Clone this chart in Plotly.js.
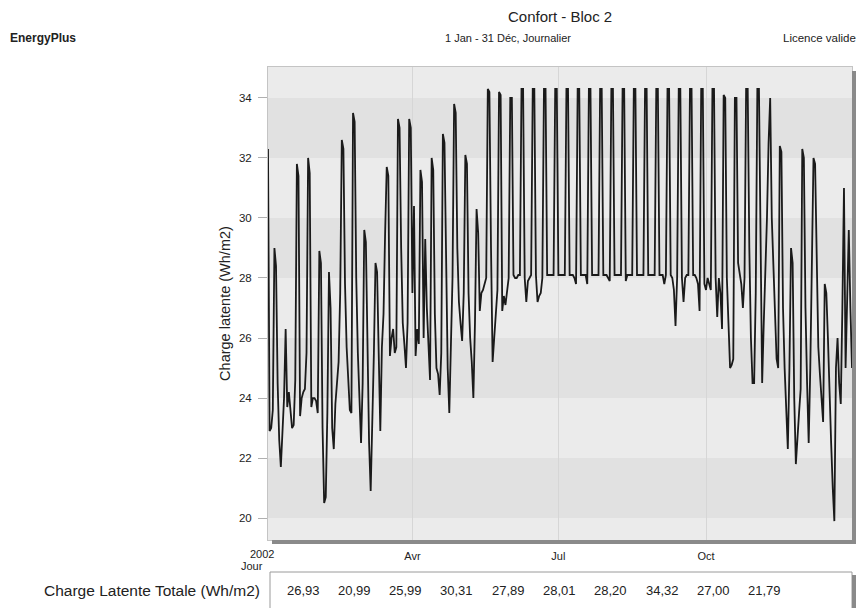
<!DOCTYPE html>
<html>
<head>
<meta charset="utf-8">
<script src="https://cdn.plot.ly/plotly-3.0.1.min.js"></script>
<style>html,body{margin:0;padding:0;background:#fff;}#chart{width:861px;height:608px;}</style>
</head>
<body>
<div id="chart"></div>
<script>
// Daily latent load (Wh/m2), 1 Jan - 31 Dec 2002
const startDate = '2002-01-01';
const latentLoad = [
32.3,22.9,23.0,23.6,29.0,28.4,24.5,
22.6,21.7,22.9,24.0,26.3,23.7,24.2,
23.5,23.0,23.1,24.6,31.8,31.4,23.4,
24.0,24.2,24.3,25.5,32.0,31.5,23.7,
24.0,24.0,23.9,23.5,28.9,28.5,23.0,
20.5,20.7,23.5,28.2,27.0,23.0,22.3,
23.8,24.5,25.2,27.5,32.6,32.3,27.8,
25.7,24.6,23.6,23.5,33.5,33.2,28.0,
25.5,23.8,22.5,24.5,29.6,29.2,25.0,
22.5,20.9,23.0,25.5,28.5,28.2,25.5,
22.9,25.7,26.8,29.5,31.7,31.4,25.4,
26.0,26.3,25.5,25.7,33.3,33.0,29.0,
26.5,25.8,25.0,26.5,33.3,33.0,27.5,
30.4,25.4,26.3,25.8,31.6,31.2,26.0,
29.3,27.0,25.5,24.6,32.0,31.6,26.8,
25.0,24.8,24.1,25.5,32.8,32.5,28.0,
25.0,23.5,25.5,28.0,33.8,33.5,29.0,
27.2,26.5,25.9,27.5,32.1,31.8,27.5,
26.0,25.2,24.0,26.5,30.3,29.5,26.9,
27.5,27.6,27.8,28.0,34.3,34.2,29.0,
25.2,26.0,26.8,27.6,34.2,34.1,26.9,
27.4,27.1,27.6,28.0,34.0,34.0,28.1,
28.0,28.0,28.1,28.1,34.3,34.3,28.0,
27.2,27.9,28.0,28.1,34.3,34.3,28.1,
27.2,27.4,27.5,28.0,34.3,34.3,28.1,
28.1,28.1,28.1,28.1,34.3,34.3,28.1,
28.1,28.1,28.1,28.1,34.3,34.3,28.1,
28.1,28.1,28.0,27.8,34.3,34.3,28.1,
28.1,28.1,28.1,27.8,34.3,34.3,28.1,
28.1,28.1,28.1,28.1,34.3,34.3,28.1,
28.1,28.1,28.0,27.9,34.3,34.3,28.1,
28.1,28.1,28.1,28.1,34.3,34.3,27.9,
28.1,28.1,28.1,28.1,34.3,34.3,28.1,
28.1,28.1,28.1,28.1,34.3,34.3,28.1,
28.1,28.1,28.1,28.1,34.3,34.3,28.1,
28.1,28.1,27.8,28.1,34.3,34.3,28.1,
28.0,27.6,26.4,28.0,34.3,34.3,28.0,
27.2,28.0,28.1,28.1,34.3,34.3,28.1,
28.1,28.0,27.8,26.9,34.3,34.3,27.8,
27.6,28.0,27.8,27.6,34.3,34.3,28.0,
26.7,28.0,27.5,26.3,34.1,34.0,28.0,
26.5,25.0,25.1,25.3,34.0,34.0,28.5,
28.1,27.8,27.0,28.0,34.3,34.3,29.0,
26.0,24.5,24.5,27.5,34.3,34.3,28.5,
24.5,26.5,28.0,30.0,32.5,34.0,30.0,
28.2,26.5,25.3,25.0,32.4,32.2,27.0,
25.0,23.5,22.3,25.0,29.0,28.5,24.0,
21.8,22.5,23.5,24.3,32.3,32.0,27.0,
24.5,22.5,25.0,28.5,32.0,31.8,28.5,
25.7,24.8,24.0,23.2,27.8,27.5,26.0,
24.0,22.5,21.0,19.9,25.0,26.0,24.5,
23.8,27.0,31.0,25.0,27.5,29.6,27.0,
25.0
];
const tickDates = ['2002-01-01','2002-04-01','2002-07-01','2002-10-01'];
const tickLabels = ['', 'Avr', 'Jul', 'Oct'];
const yTicks = [20,22,24,26,28,30,32,34];
const summaryLabel = 'Charge Latente Totale (Wh/m2)';
const summaryValues = ['26,93','20,99','25,99','30,31','27,89','28,01','28,20','34,32','27,00','21,79'];

const dates = latentLoad.map((v, i) => {
  const d = new Date(Date.parse(startDate + 'T00:00:00Z') + i * 86400000);
  return d.toISOString().slice(0, 10);
});

const FONT = 'Liberation Sans, Arial, sans-serif';
const L = 268, R = 852, T = 67, B = 540;
const W = R - L, H = B - T;
const px = x => (x - L) / W;
const py = y => (B - y) / H;

const shapes = [];
// alternating horizontal bands
[[32,34],[28,30],[24,26],[20,22]].forEach(b => {
  shapes.push({type:'rect', xref:'paper', yref:'y', x0:0, x1:1, y0:b[0], y1:b[1],
    fillcolor:'#e1e1e1', line:{width:0}, layer:'below'});
});
// shadow of the plot frame
shapes.push({type:'rect', xref:'paper', yref:'paper', x0:1, x1:px(R+4), y0:py(B+4), y1:py(T+4),
  fillcolor:'#8a8a8a', line:{width:0}});
shapes.push({type:'rect', xref:'paper', yref:'paper', x0:px(L+4), x1:px(R+4), y0:py(B+4), y1:0,
  fillcolor:'#8a8a8a', line:{width:0}});
// summary box
shapes.push({type:'rect', xref:'paper', yref:'paper', x0:px(270), x1:px(852), y0:py(615), y1:py(572),
  fillcolor:'#ffffff', line:{color:'#9a9a9a', width:1}});
shapes.push({type:'rect', xref:'paper', yref:'paper', x0:px(852), x1:px(856), y0:py(615), y1:py(575),
  fillcolor:'#8a8a8a', line:{width:0}});

const annotations = [
  {text:'Confort - Bloc 2', x:px(560), y:py(17), xref:'paper', yref:'paper', showarrow:false,
   xanchor:'center', yanchor:'middle', font:{family:FONT, size:15, color:'#222'}},
  {text:'1 Jan - 31 Déc, Journalier', x:px(508), y:py(38), xref:'paper', yref:'paper', showarrow:false,
   xanchor:'center', yanchor:'middle', font:{family:FONT, size:11, color:'#222'}},
  {text:'<b>EnergyPlus</b>', x:px(8), y:py(38), xref:'paper', yref:'paper', showarrow:false,
   xanchor:'left', yanchor:'middle', font:{family:FONT, size:12, color:'#222'}},
  {text:'Licence valide', x:px(858), y:py(38), xref:'paper', yref:'paper', showarrow:false,
   xanchor:'right', yanchor:'middle', font:{family:FONT, size:11.5, color:'#222'}},
  {text:'2002', x:px(262), y:py(554), xref:'paper', yref:'paper', showarrow:false,
   xanchor:'center', yanchor:'middle', font:{family:FONT, size:11, color:'#222'}},
  {text:'Jour', x:px(252), y:py(566), xref:'paper', yref:'paper', showarrow:false,
   xanchor:'center', yanchor:'middle', font:{family:FONT, size:11, color:'#222'}},
  {text:summaryLabel, x:px(262), y:py(590), xref:'paper', yref:'paper', showarrow:false,
   xanchor:'right', yanchor:'middle', font:{family:FONT, size:15.5, color:'#222'}}
];
summaryValues.forEach((v, i) => {
  annotations.push({text:v, x:px(303 + i * 51.3), y:py(590), xref:'paper', yref:'paper', showarrow:false,
    xanchor:'center', yanchor:'middle', font:{family:FONT, size:13, color:'#222'}});
});

const trace = {
  x: dates, y: latentLoad, type:'scatter', mode:'lines',
  line:{color:'#1a1a1a', width:1.8}, hoverinfo:'x+y'
};

const layout = {
  width:861, height:608,
  margin:{l:L, r:861-R, t:T, b:608-B},
  paper_bgcolor:'#ffffff', plot_bgcolor:'#ebebeb',
  showlegend:false,
  font:{family:FONT, color:'#222'},
  xaxis:{type:'date', range:['2002-01-01','2002-12-31'], tickvals:tickDates, ticktext:tickLabels,
    showgrid:true, gridcolor:'#d6d6d6', gridwidth:1, zeroline:false, ticks:'',
    showline:true, linecolor:'#c4c4c4', mirror:true, tickfont:{family:FONT, size:11, color:'#222'},
    ticklabelstandoff:6, fixedrange:true},
  yaxis:{range:[19.27, 35.03], tickvals:yTicks, showgrid:false, zeroline:false,
    ticks:'outside', ticklen:9, tickcolor:'#b0b0b0', showline:true, linecolor:'#c4c4c4', mirror:true,
    tickfont:{family:FONT, size:11.5, color:'#222'}, ticklabelstandoff:4,
    title:{text:'Charge latente (Wh/m2)', font:{family:FONT, size:14.5, color:'#222'}, standoff:4},
    fixedrange:true},
  shapes: shapes,
  annotations: annotations
};

Plotly.newPlot('chart', [trace], layout, {displayModeBar:false, staticPlot:true});
</script>
</body>
</html>
